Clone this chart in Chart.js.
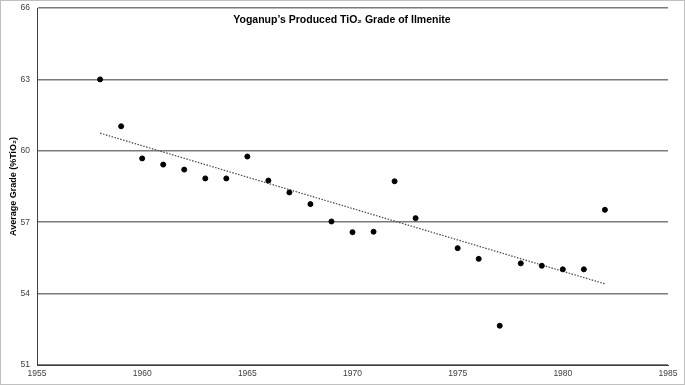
<!DOCTYPE html>
<html>
<head>
<meta charset="utf-8">
<script src="https://cdn.jsdelivr.net/npm/chart.js@4/dist/chart.umd.min.js"></script>
<style>
  html, body { margin: 0; padding: 0; background: #fff; }
  canvas { display: block; }
</style>
</head>
<body>
<canvas id="grafico" width="685" height="385"></canvas>
<script>
// data
const anos = [1958, 1959, 1960, 1961, 1962, 1963, 1964, 1965, 1966, 1967, 1968, 1969,
              1970, 1971, 1972, 1973, 1975, 1976, 1977, 1978, 1979, 1980, 1981, 1982];
const teor = [63.0, 61.03, 59.68, 59.42, 59.21, 58.84, 58.84, 59.76, 58.75, 58.25, 57.76, 57.03,
              56.58, 56.6, 58.72, 57.17, 55.91, 55.46, 52.65, 55.27, 55.17, 55.02, 55.02, 57.52];
// trend line end points
const tendAnos = [1958, 1982];
const tendTeor = [60.74, 54.41];

const titulo = 'Yoganup\u2019s Produced TiO\u2082 Grade of Ilmenite';
const tituloY = 'Average Grade (%TiO\u2082)';

const pontos = anos.map((a, i) => ({x: a, y: teor[i]}));
const tendencia = tendAnos.map((a, i) => ({x: a, y: tendTeor[i]}));

const moldura = {
    id: 'moldura',
    beforeDraw(chart) {
        let c = chart.ctx;
        c.save();
        c.fillStyle = '#fff';
        c.fillRect(0, 0, chart.width, chart.height);
        c.strokeStyle = '#c0c0c0';
        c.lineWidth = 1;
        c.strokeRect(0.5, 0.5, chart.width - 1, chart.height - 1);
        c.restore();
    },
    afterDraw(chart) {
        let c = chart.ctx;
        c.save();
        c.fillStyle = '#000';
        c.font = 'bold 10.5px "Liberation Sans", Arial, sans-serif';
        c.textAlign = 'center';
        c.textBaseline = 'middle';
        c.fillText(titulo, 342, 20);
        c.restore();
    }
};

const fonteTick = {family: '"Liberation Sans", Arial, sans-serif', size: 8.5};

new Chart(document.getElementById('grafico'), {
    type: 'scatter',
    data: {
        datasets: [{
            data: pontos,
            backgroundColor: '#000',
            borderColor: '#000',
            pointRadius: 2.5,
            order: 1
        }, {
            type: 'line',
            data: tendencia,
            borderColor: '#444',
            borderWidth: 1.2,
            borderDash: [1.5, 1.5],
            pointRadius: 0,
            fill: false,
            order: 2
        }]
    },
    options: {
        responsive: false,
        animation: false,
        devicePixelRatio: 1,
        layout: {padding: {left: 0, top: 8, right: 17, bottom: 0}},
        plugins: {
            legend: {display: false},
            tooltip: {enabled: false}
        },
        scales: {
            x: {
                type: 'linear',
                min: 1955,
                max: 1985,
                afterFit: (s) => { s.height = 20; s.paddingLeft = 0; s.paddingRight = 0; },
                ticks: {stepSize: 5, color: '#404040', font: fonteTick, padding: 4, maxRotation: 0,
                        callback: (v) => String(v)},
                grid: {drawOnChartArea: false, drawTicks: false},
                border: {display: true, color: '#404040', width: 1}
            },
            y: {
                min: 51,
                max: 66,
                afterFit: (s) => { s.width = 37; s.paddingTop = 0; s.paddingBottom = 0; },
                ticks: {stepSize: 3, color: '#404040', font: fonteTick, padding: 7},
                grid: {color: '#7a7a7a', lineWidth: 1.5, drawTicks: false},
                border: {display: true, color: '#404040', width: 1},
                title: {
                    display: true,
                    text: tituloY,
                    color: '#000',
                    font: {family: '"Liberation Sans", Arial, sans-serif', size: 9, weight: 'bold'},
                    padding: {top: 8, bottom: 0}
                }
            }
        }
    },
    plugins: [moldura]
});
</script>
</body>
</html>
